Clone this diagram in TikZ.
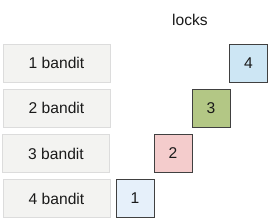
\documentclass[tikz,border=0pt]{standalone}
\usepackage{fontspec}
\setmainfont{Liberation Sans}
\definecolor{banditfill}{HTML}{F3F3F1}
\definecolor{banditline}{HTML}{DCDCDC}
\definecolor{lockline}{HTML}{404040}
\definecolor{lockA}{HTML}{E6F0FA}
\definecolor{lockB}{HTML}{F4CCCC}
\definecolor{lockC}{HTML}{B3C785}
\definecolor{lockD}{HTML}{CDE6F4}
\definecolor{txt}{HTML}{1A1A1A}
\begin{document}
\begin{tikzpicture}[x=1pt,y=-1pt,
  bandit/.style={draw=banditline,fill=banditfill,line width=0.8pt,minimum width=107pt,minimum height=38pt,inner sep=0pt,font=\fontsize{15.6}{18}\selectfont,text=txt},
  lockbox/.style={draw=lockline,line width=0.9pt,minimum width=38pt,minimum height=38pt,inner sep=0pt,font=\fontsize{15.6}{18}\selectfont,text=txt}]
\useasboundingbox (0,0) rectangle (280,222);
\node[font=\fontsize{15.6}{18}\selectfont,text=txt] (title) at (190,20) {locks};
\node[bandit] (b1) at (56.5,63) {1 bandit};
\node[bandit] (b2) at (56.5,108) {2 bandit};
\node[bandit] (b3) at (56,153.5) {3 bandit};
\node[bandit] (b4) at (56.5,198.5) {4 bandit};
\node[lockbox,fill=lockD] (l4) at (248.5,63) {4};
\node[lockbox,fill=lockC] (l3) at (211,108) {3};
\node[lockbox,fill=lockB] (l2) at (173,153.5) {2};
\node[lockbox,fill=lockA] (l1) at (135,198.5) {1};
\end{tikzpicture}
\end{document}
